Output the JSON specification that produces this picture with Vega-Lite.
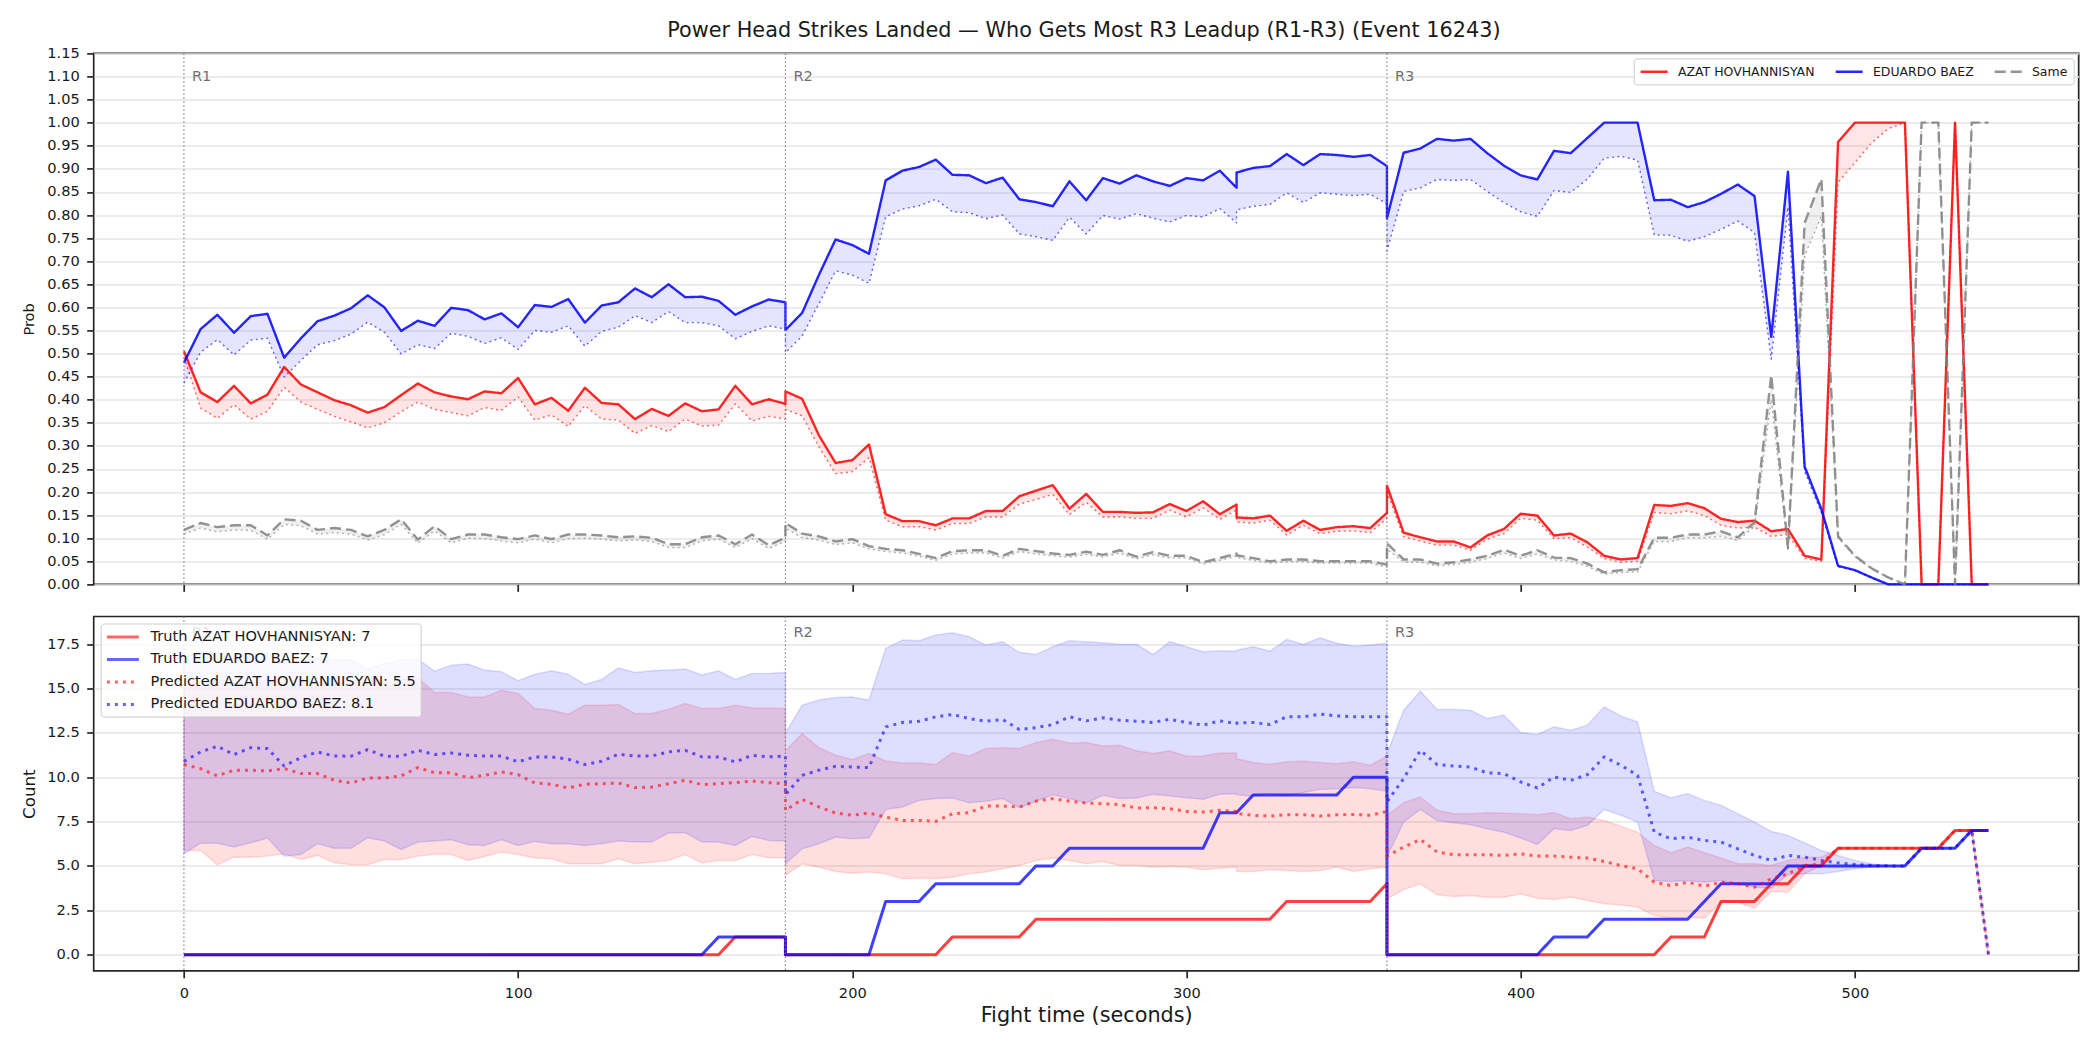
{
"$schema": "https://vega.github.io/schema/vega-lite/v6.json",
"padding": {"left": 19.7, "top": 19.4, "right": 21, "bottom": 20},
"background": "white",
"title": {"text": "Power Head Strikes Landed — Who Gets Most R3 Leadup (R1-R3) (Event 16243)", "fontSize": 20.8, "fontWeight": "normal", "color": "#1a1a1a", "anchor": "middle", "frame": "bounds", "baseline": "alphabetic", "offset": -13.4, "dx": 34},
"config": {
  "font": "DejaVu Sans",
  "view": {"stroke": "#262626", "strokeWidth": 1.7},
  "axis": {"domain": false, "tickColor": "#262626", "tickWidth": 1.7, "tickSize": 7, "labelFontSize": 14.6, "labelColor": "#1a1a1a", "titleColor": "#1a1a1a", "titleFontWeight": "normal", "gridColor": "#e6e6e6", "gridWidth": 1.5, "labelPadding": 7.4, "labelOverlap": false},
  "axisX": {"grid": false, "labelPadding": 8},
  "axisY": {"grid": true}
},
"datasets": {
"rounds": [{"t": 0, "r": "R1"}, {"t": 180, "r": "R2"}, {"t": 360, "r": "R3"}],
"d": [
{"i":0,"t":0,"ah":0.505,"al":0.492,"bh":0.48,"bl":0.436,"sh":0.118,"sl":0.109,"ta":0,"tb":0,"pa":10.71,"pb":10.89,"la":5.87,"ha":15.0,"lb":5.68,"hb":16.7},
{"i":1,"t":5,"ah":0.416,"al":0.382,"bh":0.553,"bl":0.503,"sh":0.133,"sl":0.122,"ta":0,"tb":0,"pa":10.48,"pb":11.42,"la":5.87,"ha":15.3,"lb":6.28,"hb":17.1},
{"i":2,"t":10,"ah":0.395,"al":0.36,"bh":0.584,"bl":0.53,"sh":0.124,"sl":0.114,"ta":0,"tb":0,"pa":10.07,"pb":11.74,"la":5.06,"ha":15.5,"lb":6.28,"hb":17.0},
{"i":3,"t":15,"ah":0.43,"al":0.389,"bh":0.545,"bl":0.497,"sh":0.128,"sl":0.118,"ta":0,"tb":0,"pa":10.39,"pb":11.27,"la":5.49,"ha":15.3,"lb":6.06,"hb":16.8},
{"i":4,"t":20,"ah":0.392,"al":0.358,"bh":0.581,"bl":0.529,"sh":0.128,"sl":0.117,"ta":0,"tb":0,"pa":10.39,"pb":11.66,"la":5.49,"ha":15.2,"lb":6.3,"hb":16.9},
{"i":5,"t":25,"ah":0.411,"al":0.375,"bh":0.586,"bl":0.533,"sh":0.106,"sl":0.098,"ta":0,"tb":0,"pa":10.35,"pb":11.61,"la":5.55,"ha":15.5,"lb":6.57,"hb":17.0},
{"i":6,"t":30,"ah":0.471,"al":0.427,"bh":0.491,"bl":0.449,"sh":0.141,"sl":0.13,"ta":0,"tb":0,"pa":10.48,"pb":10.63,"la":5.68,"ha":15.0,"lb":5.55,"hb":16.4},
{"i":7,"t":35,"ah":0.433,"al":0.395,"bh":0.533,"bl":0.485,"sh":0.138,"sl":0.127,"ta":0,"tb":0,"pa":10.2,"pb":11.1,"la":5.36,"ha":15.3,"lb":5.64,"hb":16.5},
{"i":8,"t":40,"ah":0.416,"al":0.379,"bh":0.57,"bl":0.519,"sh":0.118,"sl":0.109,"ta":0,"tb":0,"pa":10.2,"pb":11.42,"la":5.59,"ha":15.4,"lb":6.25,"hb":16.7},
{"i":9,"t":45,"ah":0.399,"al":0.364,"bh":0.582,"bl":0.528,"sh":0.122,"sl":0.112,"ta":0,"tb":0,"pa":9.82,"pb":11.19,"la":5.17,"ha":15.2,"lb":6.0,"hb":16.6},
{"i":10,"t":50,"ah":0.388,"al":0.352,"bh":0.598,"bl":0.542,"sh":0.118,"sl":0.109,"ta":0,"tb":0,"pa":9.67,"pb":11.18,"la":5.06,"ha":15.4,"lb":6.0,"hb":16.6},
{"i":11,"t":55,"ah":0.372,"al":0.339,"bh":0.626,"bl":0.568,"sh":0.104,"sl":0.096,"ta":0,"tb":0,"pa":9.95,"pb":11.55,"la":5.06,"ha":15.6,"lb":6.59,"hb":16.1},
{"i":12,"t":60,"ah":0.384,"al":0.35,"bh":0.6,"bl":0.546,"sh":0.118,"sl":0.108,"ta":0,"tb":0,"pa":9.95,"pb":11.18,"la":5.36,"ha":15.3,"lb":6.4,"hb":16.4},
{"i":13,"t":65,"ah":0.41,"al":0.374,"bh":0.549,"bl":0.499,"sh":0.141,"sl":0.13,"ta":0,"tb":0,"pa":10.07,"pb":11.18,"la":5.34,"ha":15.5,"lb":5.93,"hb":16.6},
{"i":14,"t":70,"ah":0.435,"al":0.395,"bh":0.571,"bl":0.519,"sh":0.097,"sl":0.089,"ta":0,"tb":0,"pa":10.54,"pb":11.51,"la":5.55,"ha":15.6,"lb":6.34,"hb":16.65},
{"i":15,"t":75,"ah":0.416,"al":0.379,"bh":0.56,"bl":0.511,"sh":0.126,"sl":0.116,"ta":0,"tb":0,"pa":10.25,"pb":11.27,"la":5.64,"ha":14.77,"lb":6.4,"hb":15.97},
{"i":16,"t":80,"ah":0.407,"al":0.372,"bh":0.599,"bl":0.544,"sh":0.098,"sl":0.09,"ta":0,"tb":0,"pa":10.24,"pb":11.36,"la":5.64,"ha":14.77,"lb":6.47,"hb":16.31},
{"i":17,"t":85,"ah":0.401,"al":0.365,"bh":0.594,"bl":0.537,"sh":0.108,"sl":0.1,"ta":0,"tb":0,"pa":9.97,"pb":11.23,"la":5.31,"ha":14.52,"lb":6.19,"hb":16.37},
{"i":18,"t":90,"ah":0.418,"al":0.383,"bh":0.574,"bl":0.522,"sh":0.108,"sl":0.099,"ta":0,"tb":0,"pa":10.1,"pb":11.19,"la":5.53,"ha":14.52,"lb":6.15,"hb":16.03},
{"i":19,"t":95,"ah":0.414,"al":0.377,"bh":0.587,"bl":0.534,"sh":0.102,"sl":0.094,"ta":0,"tb":0,"pa":10.29,"pb":11.19,"la":5.78,"ha":14.9,"lb":6.47,"hb":15.94},
{"i":20,"t":100,"ah":0.447,"al":0.406,"bh":0.557,"bl":0.509,"sh":0.098,"sl":0.09,"ta":0,"tb":0,"pa":10.14,"pb":10.86,"la":5.64,"ha":14.71,"lb":6.15,"hb":15.43},
{"i":21,"t":105,"ah":0.39,"al":0.356,"bh":0.605,"bl":0.55,"sh":0.106,"sl":0.098,"ta":0,"tb":0,"pa":9.67,"pb":11.14,"la":5.44,"ha":13.87,"lb":6.38,"hb":15.8},
{"i":22,"t":110,"ah":0.404,"al":0.367,"bh":0.601,"bl":0.546,"sh":0.098,"sl":0.09,"ta":0,"tb":0,"pa":9.6,"pb":11.14,"la":5.4,"ha":13.77,"lb":6.25,"hb":15.99},
{"i":23,"t":115,"ah":0.376,"al":0.342,"bh":0.618,"bl":0.56,"sh":0.108,"sl":0.099,"ta":0,"tb":0,"pa":9.39,"pb":11.01,"la":5.12,"ha":13.55,"lb":6.25,"hb":15.8},
{"i":24,"t":120,"ah":0.426,"al":0.387,"bh":0.567,"bl":0.516,"sh":0.108,"sl":0.1,"ta":0,"tb":0,"pa":9.6,"pb":10.71,"la":5.12,"ha":14.05,"lb":6.15,"hb":15.22},
{"i":25,"t":125,"ah":0.393,"al":0.358,"bh":0.604,"bl":0.548,"sh":0.106,"sl":0.098,"ta":0,"tb":0,"pa":9.63,"pb":10.89,"la":5.12,"ha":14.05,"lb":6.25,"hb":15.5},
{"i":26,"t":130,"ah":0.39,"al":0.356,"bh":0.611,"bl":0.557,"sh":0.102,"sl":0.094,"ta":0,"tb":0,"pa":9.67,"pb":11.29,"la":5.4,"ha":14.09,"lb":6.4,"hb":16.16},
{"i":27,"t":135,"ah":0.358,"al":0.327,"bh":0.641,"bl":0.582,"sh":0.104,"sl":0.096,"ta":0,"tb":0,"pa":9.41,"pb":11.19,"la":5.12,"ha":13.58,"lb":6.34,"hb":15.9},
{"i":28,"t":140,"ah":0.38,"al":0.344,"bh":0.622,"bl":0.567,"sh":0.101,"sl":0.093,"ta":0,"tb":0,"pa":9.44,"pb":11.19,"la":5.21,"ha":13.58,"lb":6.34,"hb":15.99},
{"i":29,"t":145,"ah":0.365,"al":0.331,"bh":0.65,"bl":0.591,"sh":0.087,"sl":0.08,"ta":0,"tb":0,"pa":9.63,"pb":11.42,"la":5.31,"ha":13.83,"lb":6.85,"hb":16.03},
{"i":30,"t":150,"ah":0.392,"al":0.358,"bh":0.622,"bl":0.567,"sh":0.087,"sl":0.08,"ta":0,"tb":0,"pa":9.82,"pb":11.51,"la":5.64,"ha":14.15,"lb":6.87,"hb":16.09},
{"i":31,"t":155,"ah":0.375,"al":0.343,"bh":0.623,"bl":0.567,"sh":0.102,"sl":0.094,"ta":0,"tb":0,"pa":9.58,"pb":11.14,"la":5.16,"ha":13.87,"lb":6.34,"hb":15.75},
{"i":32,"t":160,"ah":0.379,"al":0.345,"bh":0.614,"bl":0.56,"sh":0.106,"sl":0.098,"ta":0,"tb":1,"pa":9.63,"pb":11.14,"la":5.31,"ha":13.87,"lb":6.34,"hb":15.99},
{"i":33,"t":165,"ah":0.43,"al":0.391,"bh":0.584,"bl":0.532,"sh":0.087,"sl":0.08,"ta":1,"tb":1,"pa":9.69,"pb":10.86,"la":5.31,"ha":14.05,"lb":6.15,"hb":15.5},
{"i":34,"t":170,"ah":0.39,"al":0.354,"bh":0.602,"bl":0.548,"sh":0.108,"sl":0.099,"ta":1,"tb":1,"pa":9.78,"pb":11.23,"la":5.64,"ha":13.9,"lb":6.66,"hb":15.84},
{"i":35,"t":175,"ah":0.401,"al":0.364,"bh":0.617,"bl":0.56,"sh":0.085,"sl":0.078,"ta":1,"tb":1,"pa":9.69,"pb":11.14,"la":5.46,"ha":13.9,"lb":6.43,"hb":15.84},
{"i":36,"t":180,"ah":0.391,"al":0.358,"bh":0.611,"bl":0.553,"sh":0.101,"sl":0.093,"ta":1,"tb":1,"pa":9.63,"pb":11.19,"la":5.46,"ha":13.87,"lb":6.4,"hb":15.9},
{"i":37,"t":180,"ah":0.418,"al":0.379,"bh":0.551,"bl":0.502,"sh":0.133,"sl":0.122,"ta":0,"tb":0,"pa":8.13,"pb":9.01,"la":4.46,"ha":11.48,"lb":5.12,"hb":12.49},
{"i":38,"t":185,"ah":0.402,"al":0.365,"bh":0.588,"bl":0.538,"sh":0.11,"sl":0.101,"ta":0,"tb":0,"pa":8.75,"pb":10.1,"la":5.12,"ha":12.46,"lb":5.96,"hb":14.05},
{"i":39,"t":190,"ah":0.323,"al":0.298,"bh":0.67,"bl":0.608,"sh":0.104,"sl":0.096,"ta":0,"tb":0,"pa":8.32,"pb":10.39,"la":4.93,"ha":11.67,"lb":6.25,"hb":14.34},
{"i":40,"t":195,"ah":0.263,"al":0.24,"bh":0.747,"bl":0.679,"sh":0.093,"sl":0.086,"ta":0,"tb":0,"pa":7.98,"pb":10.61,"la":4.68,"ha":11.23,"lb":6.62,"hb":14.49},
{"i":41,"t":200,"ah":0.269,"al":0.244,"bh":0.735,"bl":0.67,"sh":0.098,"sl":0.09,"ta":0,"tb":0,"pa":7.85,"pb":10.57,"la":4.59,"ha":10.99,"lb":6.53,"hb":14.52},
{"i":42,"t":205,"ah":0.303,"al":0.275,"bh":0.716,"bl":0.652,"sh":0.083,"sl":0.077,"ta":0,"tb":0,"pa":7.98,"pb":10.54,"la":4.65,"ha":11.33,"lb":6.57,"hb":14.34},
{"i":43,"t":210,"ah":0.152,"al":0.139,"bh":0.875,"bl":0.796,"sh":0.077,"sl":0.071,"ta":0,"tb":3,"pa":7.75,"pb":12.83,"la":4.55,"ha":10.91,"lb":8.17,"hb":17.25},
{"i":44,"t":215,"ah":0.137,"al":0.125,"bh":0.896,"bl":0.813,"sh":0.074,"sl":0.068,"ta":0,"tb":3,"pa":7.56,"pb":13.08,"la":4.27,"ha":10.8,"lb":8.32,"hb":17.72},
{"i":45,"t":220,"ah":0.137,"al":0.125,"bh":0.904,"bl":0.82,"sh":0.066,"sl":0.061,"ta":0,"tb":3,"pa":7.56,"pb":13.15,"la":4.31,"ha":10.8,"lb":8.69,"hb":17.68},
{"i":46,"t":225,"ah":0.128,"al":0.118,"bh":0.92,"bl":0.834,"sh":0.057,"sl":0.052,"ta":0,"tb":4,"pa":7.51,"pb":13.4,"la":4.27,"ha":10.71,"lb":8.79,"hb":18.01},
{"i":47,"t":230,"ah":0.143,"al":0.132,"bh":0.887,"bl":0.807,"sh":0.072,"sl":0.066,"ta":1,"tb":4,"pa":7.94,"pb":13.53,"la":4.36,"ha":11.38,"lb":8.82,"hb":18.14},
{"i":48,"t":235,"ah":0.143,"al":0.132,"bh":0.886,"bl":0.805,"sh":0.074,"sl":0.068,"ta":1,"tb":4,"pa":8.0,"pb":13.3,"la":4.55,"ha":11.19,"lb":8.56,"hb":17.91},
{"i":49,"t":240,"ah":0.159,"al":0.146,"bh":0.869,"bl":0.792,"sh":0.074,"sl":0.068,"ta":1,"tb":4,"pa":8.37,"pb":13.15,"la":4.65,"ha":11.61,"lb":8.64,"hb":17.44},
{"i":50,"t":245,"ah":0.159,"al":0.146,"bh":0.881,"bl":0.8,"sh":0.062,"sl":0.057,"ta":1,"tb":4,"pa":8.37,"pb":13.25,"la":4.84,"ha":11.65,"lb":8.79,"hb":17.63},
{"i":51,"t":250,"ah":0.191,"al":0.174,"bh":0.834,"bl":0.759,"sh":0.077,"sl":0.071,"ta":1,"tb":4,"pa":8.32,"pb":12.68,"la":5.02,"ha":11.61,"lb":8.28,"hb":17.03},
{"i":52,"t":255,"ah":0.203,"al":0.184,"bh":0.828,"bl":0.753,"sh":0.072,"sl":0.066,"ta":2,"tb":5,"pa":8.65,"pb":12.79,"la":5.31,"ha":11.95,"lb":8.64,"hb":16.91},
{"i":53,"t":260,"ah":0.215,"al":0.195,"bh":0.819,"bl":0.745,"sh":0.067,"sl":0.062,"ta":2,"tb":5,"pa":8.79,"pb":12.96,"la":5.44,"ha":12.14,"lb":9.01,"hb":17.35},
{"i":54,"t":265,"ah":0.164,"al":0.151,"bh":0.873,"bl":0.795,"sh":0.064,"sl":0.059,"ta":2,"tb":6,"pa":8.65,"pb":13.4,"la":5.31,"ha":11.93,"lb":8.79,"hb":17.68},
{"i":55,"t":270,"ah":0.196,"al":0.178,"bh":0.832,"bl":0.759,"sh":0.071,"sl":0.065,"ta":2,"tb":6,"pa":8.54,"pb":13.17,"la":5.12,"ha":11.95,"lb":8.54,"hb":17.63},
{"i":56,"t":275,"ah":0.157,"al":0.146,"bh":0.88,"bl":0.799,"sh":0.064,"sl":0.059,"ta":2,"tb":6,"pa":8.5,"pb":13.34,"la":5.25,"ha":11.76,"lb":8.97,"hb":17.57},
{"i":57,"t":280,"ah":0.157,"al":0.146,"bh":0.868,"bl":0.791,"sh":0.074,"sl":0.068,"ta":2,"tb":6,"pa":8.45,"pb":13.21,"la":5.02,"ha":11.8,"lb":8.79,"hb":17.48},
{"i":58,"t":285,"ah":0.155,"al":0.143,"bh":0.886,"bl":0.803,"sh":0.06,"sl":0.055,"ta":2,"tb":6,"pa":8.26,"pb":13.15,"la":5.02,"ha":11.48,"lb":8.82,"hb":17.48},
{"i":59,"t":290,"ah":0.156,"al":0.143,"bh":0.873,"bl":0.793,"sh":0.07,"sl":0.064,"ta":2,"tb":6,"pa":8.28,"pb":13.08,"la":4.93,"ha":11.33,"lb":9.03,"hb":16.91},
{"i":60,"t":295,"ah":0.174,"al":0.161,"bh":0.863,"bl":0.785,"sh":0.062,"sl":0.057,"ta":2,"tb":6,"pa":8.22,"pb":13.26,"la":4.97,"ha":11.48,"lb":8.94,"hb":17.63},
{"i":61,"t":300,"ah":0.159,"al":0.146,"bh":0.88,"bl":0.799,"sh":0.062,"sl":0.057,"ta":2,"tb":6,"pa":8.07,"pb":13.08,"la":4.93,"ha":11.18,"lb":8.84,"hb":17.35},
{"i":62,"t":305,"ah":0.18,"al":0.166,"bh":0.875,"bl":0.796,"sh":0.048,"sl":0.044,"ta":2,"tb":6,"pa":8.03,"pb":12.93,"la":4.78,"ha":11.19,"lb":8.75,"hb":17.06},
{"i":63,"t":310,"ah":0.152,"al":0.141,"bh":0.896,"bl":0.814,"sh":0.057,"sl":0.052,"ta":2,"tb":8,"pa":8.13,"pb":13.17,"la":4.87,"ha":11.36,"lb":9.03,"hb":17.12},
{"i":64,"t":315,"ah":0.173,"al":0.161,"bh":0.859,"bl":0.783,"sh":0.067,"sl":0.061,"ta":2,"tb":8,"pa":8.07,"pb":13.02,"la":4.93,"ha":11.36,"lb":9.07,"hb":17.1},
{"i":65,"t":315,"ah":0.145,"al":0.135,"bh":0.892,"bl":0.811,"sh":0.063,"sl":0.058,"ta":2,"tb":8,"pa":7.95,"pb":13.05,"la":4.68,"ha":11.04,"lb":9.0,"hb":17.15},
{"i":66,"t":320,"ah":0.143,"al":0.133,"bh":0.902,"bl":0.819,"sh":0.057,"sl":0.052,"ta":2,"tb":9,"pa":7.85,"pb":13.08,"la":4.68,"ha":10.82,"lb":8.94,"hb":17.35},
{"i":67,"t":325,"ah":0.149,"al":0.139,"bh":0.906,"bl":0.823,"sh":0.05,"sl":0.046,"ta":2,"tb":9,"pa":7.81,"pb":12.96,"la":4.78,"ha":10.72,"lb":9.07,"hb":17.1},
{"i":68,"t":330,"ah":0.116,"al":0.107,"bh":0.932,"bl":0.848,"sh":0.054,"sl":0.049,"ta":3,"tb":9,"pa":7.88,"pb":13.4,"la":4.74,"ha":10.86,"lb":8.97,"hb":17.76},
{"i":69,"t":335,"ah":0.138,"al":0.128,"bh":0.908,"bl":0.827,"sh":0.054,"sl":0.049,"ta":3,"tb":9,"pa":7.88,"pb":13.4,"la":4.68,"ha":10.89,"lb":9.13,"hb":17.48},
{"i":70,"t":340,"ah":0.118,"al":0.11,"bh":0.932,"bl":0.848,"sh":0.05,"sl":0.046,"ta":3,"tb":9,"pa":7.81,"pb":13.55,"la":4.74,"ha":10.82,"lb":9.31,"hb":17.85},
{"i":71,"t":345,"ah":0.124,"al":0.115,"bh":0.93,"bl":0.845,"sh":0.05,"sl":0.046,"ta":3,"tb":9,"pa":7.88,"pb":13.45,"la":4.93,"ha":10.76,"lb":9.35,"hb":17.54},
{"i":72,"t":350,"ah":0.126,"al":0.116,"bh":0.926,"bl":0.842,"sh":0.05,"sl":0.046,"ta":3,"tb":10,"pa":7.9,"pb":13.4,"la":4.68,"ha":10.86,"lb":9.41,"hb":17.38},
{"i":73,"t":355,"ah":0.122,"al":0.112,"bh":0.93,"bl":0.845,"sh":0.05,"sl":0.046,"ta":3,"tb":10,"pa":7.85,"pb":13.4,"la":4.84,"ha":10.67,"lb":9.35,"hb":17.44},
{"i":74,"t":360,"ah":0.155,"al":0.143,"bh":0.906,"bl":0.824,"sh":0.043,"sl":0.037,"ta":4,"tb":10,"pa":8.07,"pb":13.4,"la":4.93,"ha":11.19,"lb":9.2,"hb":17.54},
{"i":75,"t":360,"ah":0.214,"al":0.2,"bh":0.793,"bl":0.722,"sh":0.089,"sl":0.076,"ta":0,"tb":0,"pa":5.55,"pb":8.6,"la":3.14,"ha":7.85,"lb":5.5,"hb":11.3},
{"i":76,"t":365,"ah":0.112,"al":0.103,"bh":0.935,"bl":0.851,"sh":0.054,"sl":0.048,"ta":0,"tb":0,"pa":6.06,"pb":9.92,"la":3.67,"ha":8.56,"lb":7.47,"hb":13.77},
{"i":77,"t":370,"ah":0.102,"al":0.094,"bh":0.944,"bl":0.859,"sh":0.054,"sl":0.048,"ta":0,"tb":0,"pa":6.49,"pb":11.51,"la":3.99,"ha":8.88,"lb":8.18,"hb":14.84},
{"i":78,"t":375,"ah":0.093,"al":0.085,"bh":0.965,"bl":0.877,"sh":0.045,"sl":0.04,"ta":0,"tb":0,"pa":5.78,"pb":10.71,"la":3.37,"ha":8.13,"lb":7.56,"hb":13.81},
{"i":79,"t":380,"ah":0.093,"al":0.085,"bh":0.961,"bl":0.875,"sh":0.048,"sl":0.043,"ta":0,"tb":0,"pa":5.63,"pb":10.63,"la":3.27,"ha":7.94,"lb":7.43,"hb":13.81},
{"i":80,"t":385,"ah":0.08,"al":0.074,"bh":0.965,"bl":0.877,"sh":0.054,"sl":0.048,"ta":0,"tb":0,"pa":5.63,"pb":10.57,"la":3.33,"ha":7.94,"lb":7.32,"hb":13.77},
{"i":81,"t":390,"ah":0.106,"al":0.098,"bh":0.934,"bl":0.851,"sh":0.062,"sl":0.056,"ta":0,"tb":0,"pa":5.63,"pb":10.24,"la":3.24,"ha":8.0,"lb":7.09,"hb":13.3},
{"i":82,"t":395,"ah":0.12,"al":0.11,"bh":0.907,"bl":0.827,"sh":0.075,"sl":0.068,"ta":0,"tb":0,"pa":5.59,"pb":10.2,"la":3.24,"ha":7.98,"lb":6.9,"hb":13.49},
{"i":83,"t":400,"ah":0.153,"al":0.143,"bh":0.886,"bl":0.807,"sh":0.062,"sl":0.056,"ta":0,"tb":0,"pa":5.68,"pb":9.73,"la":3.42,"ha":7.94,"lb":6.57,"hb":12.51},
{"i":84,"t":405,"ah":0.149,"al":0.139,"bh":0.877,"bl":0.797,"sh":0.074,"sl":0.066,"ta":0,"tb":0,"pa":5.55,"pb":9.39,"la":3.18,"ha":7.88,"lb":6.21,"hb":12.4},
{"i":85,"t":410,"ah":0.106,"al":0.099,"bh":0.939,"bl":0.853,"sh":0.058,"sl":0.053,"ta":0,"tb":1,"pa":5.55,"pb":10.01,"la":3.1,"ha":8.0,"lb":7.09,"hb":12.83},
{"i":86,"t":415,"ah":0.11,"al":0.101,"bh":0.934,"bl":0.849,"sh":0.057,"sl":0.05,"ta":0,"tb":1,"pa":5.49,"pb":9.82,"la":3.24,"ha":7.66,"lb":7.0,"hb":12.64},
{"i":87,"t":420,"ah":0.091,"al":0.081,"bh":0.967,"bl":0.878,"sh":0.045,"sl":0.039,"ta":0,"tb":1,"pa":5.44,"pb":10.14,"la":3.05,"ha":7.75,"lb":7.28,"hb":12.93},
{"i":88,"t":425,"ah":0.062,"al":0.056,"bh":1.0,"bl":0.923,"sh":0.026,"sl":0.022,"ta":0,"tb":2,"pa":5.25,"pb":11.14,"la":2.86,"ha":7.56,"lb":8.18,"hb":13.96},
{"i":89,"t":430,"ah":0.054,"al":0.048,"bh":1.0,"bl":0.927,"sh":0.031,"sl":0.026,"ta":0,"tb":2,"pa":5.02,"pb":10.67,"la":2.8,"ha":7.24,"lb":7.85,"hb":13.45},
{"i":90,"t":435,"ah":0.057,"al":0.05,"bh":1.0,"bl":0.919,"sh":0.033,"sl":0.027,"ta":0,"tb":2,"pa":4.84,"pb":10.1,"la":2.67,"ha":6.9,"lb":7.47,"hb":13.11},
{"i":91,"t":440,"ah":0.172,"al":0.156,"bh":0.832,"bl":0.757,"sh":0.101,"sl":0.093,"ta":0,"tb":2,"pa":4.08,"pb":6.9,"la":2.2,"ha":6.15,"lb":4.18,"hb":9.2},
{"i":92,"t":445,"ah":0.17,"al":0.153,"bh":0.833,"bl":0.756,"sh":0.101,"sl":0.093,"ta":1,"tb":2,"pa":3.89,"pb":6.53,"la":2.05,"ha":5.74,"lb":4.12,"hb":8.84},
{"i":93,"t":450,"ah":0.176,"al":0.159,"bh":0.817,"bl":0.743,"sh":0.108,"sl":0.101,"ta":1,"tb":2,"pa":4.08,"pb":6.62,"la":2.11,"ha":6.06,"lb":4.18,"hb":9.07},
{"i":94,"t":455,"ah":0.165,"al":0.149,"bh":0.828,"bl":0.753,"sh":0.108,"sl":0.101,"ta":1,"tb":3,"pa":3.86,"pb":6.43,"la":2.05,"ha":5.74,"lb":4.08,"hb":8.69},
{"i":95,"t":460,"ah":0.142,"al":0.128,"bh":0.846,"bl":0.769,"sh":0.115,"sl":0.104,"ta":3,"tb":4,"pa":4.08,"pb":6.34,"la":2.95,"ha":5.44,"lb":4.18,"hb":8.41},
{"i":96,"t":465,"ah":0.135,"al":0.122,"bh":0.866,"bl":0.787,"sh":0.102,"sl":0.095,"ta":3,"tb":4,"pa":3.99,"pb":5.96,"la":2.95,"ha":5.12,"lb":3.99,"hb":7.94},
{"i":97,"t":470,"ah":0.138,"al":0.124,"bh":0.841,"bl":0.762,"sh":0.135,"sl":0.125,"ta":3,"tb":4,"pa":3.8,"pb":5.59,"la":2.62,"ha":5.12,"lb":3.8,"hb":7.47},
{"i":98,"t":475,"ah":0.115,"al":0.104,"bh":0.536,"bl":0.488,"sh":0.453,"sl":0.4,"ta":4,"tb":4,"pa":4.27,"pb":5.31,"la":3.56,"ha":5.02,"lb":3.74,"hb":6.94},
{"i":99,"t":480,"ah":0.12,"al":0.108,"bh":0.894,"bl":0.817,"sh":0.079,"sl":0.072,"ta":4,"tb":5,"pa":4.55,"pb":5.59,"la":3.52,"ha":5.31,"lb":4.5,"hb":6.72},
{"i":100,"t":485,"ah":0.062,"al":0.056,"bh":0.255,"bl":0.244,"sh":0.783,"sl":0.712,"ta":5,"tb":5,"pa":5.02,"pb":5.49,"la":4.55,"ha":5.49,"lb":4.55,"hb":6.3},
{"i":101,"t":490,"ah":0.054,"al":0.05,"bh":0.163,"bl":0.155,"sh":0.878,"sl":0.797,"ta":5,"tb":5,"pa":5.12,"pb":5.31,"la":5.02,"ha":5.49,"lb":4.55,"hb":5.87},
{"i":102,"t":495,"ah":0.958,"al":0.871,"bh":0.04,"bl":0.039,"sh":0.104,"sl":0.101,"ta":6,"tb":5,"pa":6,"pb":5.17,"la":6,"ha":6,"lb":4.68,"hb":5.59},
{"i":103,"t":500,"ah":1.0,"al":0.913,"bh":0.031,"bl":0.03,"sh":0.062,"sl":0.06,"ta":6,"tb":5,"pa":6,"pb":5.08,"la":6,"ha":6,"lb":4.84,"hb":5.31},
{"i":104,"t":505,"ah":1.0,"al":0.956,"bh":0.015,"bl":0.015,"sh":0.035,"sl":0.034,"ta":6,"tb":5,"pa":6,"pb":5.02,"la":6,"ha":6,"lb":4.93,"hb":5.12},
{"i":105,"t":510,"ah":1.0,"al":0.987,"bh":0,"bl":0,"sh":0.015,"sl":0.015,"ta":6,"tb":5,"pa":6,"pb":5,"la":6,"ha":6,"lb":5,"hb":5},
{"i":106,"t":515,"ah":1.0,"al":1.0,"bh":0,"bl":0,"sh":0,"sl":0,"ta":6,"tb":5,"pa":6,"pb":5,"la":6,"ha":6,"lb":5,"hb":5},
{"i":107,"t":520,"ah":0,"al":0,"bh":0,"bl":0,"sh":1.0,"sl":1.0,"ta":6,"tb":6,"pa":6,"pb":6,"la":6,"ha":6,"lb":6,"hb":6},
{"i":108,"t":525,"ah":0,"al":0,"bh":0,"bl":0,"sh":1.0,"sl":1.0,"ta":6,"tb":6,"pa":6,"pb":6,"la":6,"ha":6,"lb":6,"hb":6},
{"i":109,"t":530,"ah":1.0,"al":1.0,"bh":0,"bl":0,"sh":0,"sl":0,"ta":7,"tb":6,"pa":7,"pb":6,"la":7,"ha":7,"lb":6,"hb":6},
{"i":110,"t":535,"ah":0,"al":0,"bh":0,"bl":0,"sh":1.0,"sl":1.0,"ta":7,"tb":7,"pa":7,"pb":7,"la":7,"ha":7,"lb":7,"hb":7},
{"i":111,"t":540,"ah":0,"al":0,"bh":0,"bl":0,"sh":1.0,"sl":1.0,"ta":7,"tb":7,"pa":0,"pb":0,"la":0,"ha":0,"lb":0,"hb":0}
]
},
"resolve": {"scale": {"color": "independent", "strokeDash": "independent"}, "legend": {"color": "independent", "strokeDash": "independent"}},
"spacing": 21.1,
"vconcat": [
{
"width": 1985, "height": 531,
"data": {"name": "d"},
"layer": [
{"mark": {"type": "area", "color": "#ff0000", "fillOpacity": 0.1},
 "encoding": {
  "x": {"field": "t", "type": "quantitative", "title": null, "scale": {"domain": [-27, 567], "nice": false, "zero": false}, "axis": {"values": [0, 100, 200, 300, 400, 500], "labels": false, "grid": false}},
  "y": {"field": "ah", "type": "quantitative", "title": "Prob", "scale": {"domain": [0, 1.15], "nice": false, "zero": false}, "axis": {"values": [0, 0.05, 0.1, 0.15, 0.2, 0.25, 0.3, 0.35, 0.4, 0.45, 0.5, 0.55, 0.6, 0.65, 0.7, 0.75, 0.8, 0.85, 0.9, 0.95, 1, 1.05, 1.1, 1.15], "tickCount": 40, "format": ".2f", "labelOverlap": false, "titleX": -60.4, "titleBaseline": "alphabetic", "titleAngle": -90, "titleFontSize": 14.6}},
  "y2": {"field": "al"}}},
{"mark": {"type": "area", "color": "#0000ff", "fillOpacity": 0.1},
 "encoding": {
  "x": {"field": "t", "type": "quantitative", "title": null, "scale": {"domain": [-27, 567], "nice": false, "zero": false}},
  "y": {"field": "bh", "type": "quantitative", "title": "Prob", "scale": {"domain": [0, 1.15], "nice": false, "zero": false}},
  "y2": {"field": "bl"}}},
{"mark": {"type": "area", "color": "#808080", "fillOpacity": 0.12},
 "encoding": {
  "x": {"field": "t", "type": "quantitative", "title": null, "scale": {"domain": [-27, 567], "nice": false, "zero": false}},
  "y": {"field": "sh", "type": "quantitative", "title": "Prob", "scale": {"domain": [0, 1.15], "nice": false, "zero": false}},
  "y2": {"field": "sl"}}},
{"mark": {"type": "line", "color": "#ff0000", "opacity": 0.6, "strokeWidth": 1.4, "strokeDash": [2, 3.3], "strokeJoin": "round"},
 "encoding": {
  "x": {"field": "t", "type": "quantitative", "title": null, "scale": {"domain": [-27, 567], "nice": false, "zero": false}},
  "y": {"field": "al", "type": "quantitative", "title": "Prob", "scale": {"domain": [0, 1.15], "nice": false, "zero": false}},
  "order": {"field": "i", "type": "quantitative"}}},
{"mark": {"type": "line", "color": "#0000ff", "opacity": 0.6, "strokeWidth": 1.4, "strokeDash": [2, 3.3], "strokeJoin": "round"},
 "encoding": {
  "x": {"field": "t", "type": "quantitative", "title": null, "scale": {"domain": [-27, 567], "nice": false, "zero": false}},
  "y": {"field": "bl", "type": "quantitative", "title": "Prob", "scale": {"domain": [0, 1.15], "nice": false, "zero": false}},
  "order": {"field": "i", "type": "quantitative"}}},
{"mark": {"type": "line", "color": "#808080", "opacity": 0.6, "strokeWidth": 1.4, "strokeDash": [2, 3.3], "strokeJoin": "round"},
 "encoding": {
  "x": {"field": "t", "type": "quantitative", "title": null, "scale": {"domain": [-27, 567], "nice": false, "zero": false}},
  "y": {"field": "sl", "type": "quantitative", "title": "Prob", "scale": {"domain": [0, 1.15], "nice": false, "zero": false}},
  "order": {"field": "i", "type": "quantitative"}}},
{"transform": [{"fold": ["ah", "bh", "sh"], "as": ["k", "v"]}],
 "mark": {"type": "line", "opacity": 0.85, "strokeWidth": 2.4, "strokeJoin": "round"},
 "encoding": {
  "x": {"field": "t", "type": "quantitative", "title": null, "scale": {"domain": [-27, 567], "nice": false, "zero": false}},
  "y": {"field": "v", "type": "quantitative", "title": "Prob", "scale": {"domain": [0, 1.15], "nice": false, "zero": false}},
  "color": {"field": "k", "type": "nominal", "scale": {"domain": ["ah", "bh", "sh"], "range": ["#ff0000", "#0000ff", "#808080"]},
   "legend": {"orient": "top-right", "offset": 5, "zindex": 1, "direction": "horizontal", "title": null, "labelExpr": "datum.label == 'ah' ? 'AZAT HOVHANNISYAN' : datum.label == 'bh' ? 'EDUARDO BAEZ' : 'Same'", "labelFontSize": 12.5, "labelColor": "#1a1a1a", "labelOffset": 23.5, "labelLimit": 400, "symbolType": "M-1,0H3.32", "symbolSize": 156, "symbolStrokeWidth": 2.5, "symbolOpacity": 0.85, "columnPadding": 15, "padding": 5.75, "fillColor": "#ffffff", "strokeColor": "#cccccc", "cornerRadius": 3}},
  "strokeDash": {"field": "k", "type": "nominal", "scale": {"domain": ["ah", "bh", "sh"], "range": [[1, 0], [1, 0], [11, 5]]},
   "legend": {"orient": "top-right", "offset": 5, "zindex": 1, "direction": "horizontal", "title": null, "labelExpr": "datum.label == 'ah' ? 'AZAT HOVHANNISYAN' : datum.label == 'bh' ? 'EDUARDO BAEZ' : 'Same'", "labelFontSize": 12.5, "labelColor": "#1a1a1a", "labelOffset": 23.5, "labelLimit": 400, "symbolType": "M-1,0H3.32", "symbolSize": 156, "symbolStrokeWidth": 2.5, "symbolOpacity": 0.85, "columnPadding": 15, "padding": 5.75, "fillColor": "#ffffff", "strokeColor": "#cccccc", "cornerRadius": 3}},
  "order": {"field": "i", "type": "quantitative"}}},
{"data": {"name": "rounds"},
 "mark": {"type": "rule", "color": "#777777", "strokeWidth": 1.2, "strokeDash": [1.5, 2.5], "opacity": 0.9},
 "encoding": {"x": {"field": "t", "type": "quantitative", "title": null, "scale": {"domain": [-27, 567], "nice": false, "zero": false}}}},
{"data": {"name": "rounds"},
 "mark": {"type": "text", "align": "left", "baseline": "middle", "dx": 8, "fontSize": 14.6, "color": "#707070"},
 "encoding": {
  "x": {"field": "t", "type": "quantitative", "title": null, "scale": {"domain": [-27, 567], "nice": false, "zero": false}},
  "y": {"datum": 1.098},
  "text": {"field": "r"}}}
]
},
{
"width": 1985, "height": 354.3,
"data": {"name": "d"},
"layer": [
{"mark": {"type": "area", "fill": "#ff0000", "fillOpacity": 0.13, "stroke": "#ff0000", "strokeOpacity": 0.12, "strokeWidth": 1.5},
 "encoding": {
  "x": {"field": "t", "type": "quantitative", "title": "Fight time (seconds)", "scale": {"domain": [-27, 567], "nice": false, "zero": false}, "axis": {"values": [0, 100, 200, 300, 400, 500], "grid": false, "titleFontSize": 20.8, "titleY": 51, "titleBaseline": "alphabetic"}},
  "y": {"field": "ha", "type": "quantitative", "title": "Count", "scale": {"domain": [-0.91, 19.05], "nice": false, "zero": false}, "axis": {"values": [0, 2.5, 5, 7.5, 10, 12.5, 15, 17.5], "tickCount": 20, "format": ".1f", "labelOverlap": false, "titleX": -59.6, "titleBaseline": "alphabetic", "titleAngle": -90, "titleFontSize": 16.7}},
  "y2": {"field": "la"}}},
{"mark": {"type": "area", "fill": "#0000ff", "fillOpacity": 0.13, "stroke": "#0000ff", "strokeOpacity": 0.12, "strokeWidth": 1.5},
 "encoding": {
  "x": {"field": "t", "type": "quantitative", "title": "Fight time (seconds)", "scale": {"domain": [-27, 567], "nice": false, "zero": false}},
  "y": {"field": "hb", "type": "quantitative", "title": "Count", "scale": {"domain": [-0.91, 19.05], "nice": false, "zero": false}},
  "y2": {"field": "lb"}}},
{"transform": [{"fold": ["ta", "tb"], "as": ["k", "v"]}],
 "mark": {"type": "line", "opacity": 0.75, "strokeWidth": 3, "strokeJoin": "round"},
 "encoding": {
  "x": {"field": "t", "type": "quantitative", "title": "Fight time (seconds)", "scale": {"domain": [-27, 567], "nice": false, "zero": false}},
  "y": {"field": "v", "type": "quantitative", "title": "Count", "scale": {"domain": [-0.91, 19.05], "nice": false, "zero": false}},
  "color": {"field": "k", "type": "nominal", "scale": {"domain": ["ta", "tb", "pa", "pb"], "range": ["#ff0000", "#0000ff", "#ff0000", "#0000ff"]},
   "legend": {"orient": "top-left", "offset": 6.5, "zindex": 1, "direction": "vertical", "title": null, "labelExpr": "datum.label == 'ta' ? 'Truth AZAT HOVHANNISYAN: 7' : datum.label == 'tb' ? 'Truth EDUARDO BAEZ: 7' : datum.label == 'pa' ? 'Predicted AZAT HOVHANNISYAN: 5.5' : 'Predicted EDUARDO BAEZ: 8.1'", "labelFontSize": 14.6, "labelColor": "#1a1a1a", "labelOffset": 27.4, "labelLimit": 400, "symbolType": "M-1,0H3.38", "symbolSize": 213, "symbolStrokeWidth": 3, "symbolOpacity": 0.7, "rowPadding": 6.5, "padding": 4.5, "fillColor": "rgba(255,255,255,0.8)", "strokeColor": "#cccccc", "cornerRadius": 3}},
  "strokeDash": {"field": "k", "type": "nominal", "scale": {"domain": ["ta", "tb", "pa", "pb"], "range": [[1, 0], [1, 0], [3, 5], [3, 5]]},
   "legend": {"orient": "top-left", "offset": 6.5, "zindex": 1, "direction": "vertical", "title": null, "labelExpr": "datum.label == 'ta' ? 'Truth AZAT HOVHANNISYAN: 7' : datum.label == 'tb' ? 'Truth EDUARDO BAEZ: 7' : datum.label == 'pa' ? 'Predicted AZAT HOVHANNISYAN: 5.5' : 'Predicted EDUARDO BAEZ: 8.1'", "labelFontSize": 14.6, "labelColor": "#1a1a1a", "labelOffset": 27.4, "labelLimit": 400, "symbolType": "M-1,0H3.38", "symbolSize": 213, "symbolStrokeWidth": 3, "symbolOpacity": 0.7, "rowPadding": 6.5, "padding": 4.5, "fillColor": "rgba(255,255,255,0.8)", "strokeColor": "#cccccc", "cornerRadius": 3}},
  "order": {"field": "i", "type": "quantitative"}}},
{"transform": [{"fold": ["pa", "pb"], "as": ["k", "v"]}],
 "mark": {"type": "line", "opacity": 0.6, "strokeWidth": 3, "strokeJoin": "round"},
 "encoding": {
  "x": {"field": "t", "type": "quantitative", "title": "Fight time (seconds)", "scale": {"domain": [-27, 567], "nice": false, "zero": false}},
  "y": {"field": "v", "type": "quantitative", "title": "Count", "scale": {"domain": [-0.91, 19.05], "nice": false, "zero": false}},
  "color": {"field": "k", "type": "nominal", "scale": {"domain": ["ta", "tb", "pa", "pb"], "range": ["#ff0000", "#0000ff", "#ff0000", "#0000ff"]}},
  "strokeDash": {"field": "k", "type": "nominal", "scale": {"domain": ["ta", "tb", "pa", "pb"], "range": [[1, 0], [1, 0], [3, 5], [3, 5]]}},
  "order": {"field": "i", "type": "quantitative"}}},
{"data": {"name": "rounds"},
 "mark": {"type": "rule", "color": "#777777", "strokeWidth": 1.2, "strokeDash": [1.5, 2.5], "opacity": 0.9},
 "encoding": {"x": {"field": "t", "type": "quantitative", "title": "Fight time (seconds)", "scale": {"domain": [-27, 567], "nice": false, "zero": false}}}},
{"data": {"name": "rounds"},
 "mark": {"type": "text", "align": "left", "baseline": "middle", "dx": 8, "fontSize": 14.6, "color": "#707070"},
 "encoding": {
  "x": {"field": "t", "type": "quantitative", "title": "Fight time (seconds)", "scale": {"domain": [-27, 567], "nice": false, "zero": false}},
  "y": {"datum": 18.1},
  "text": {"field": "r"}}}
]
}
]
}
